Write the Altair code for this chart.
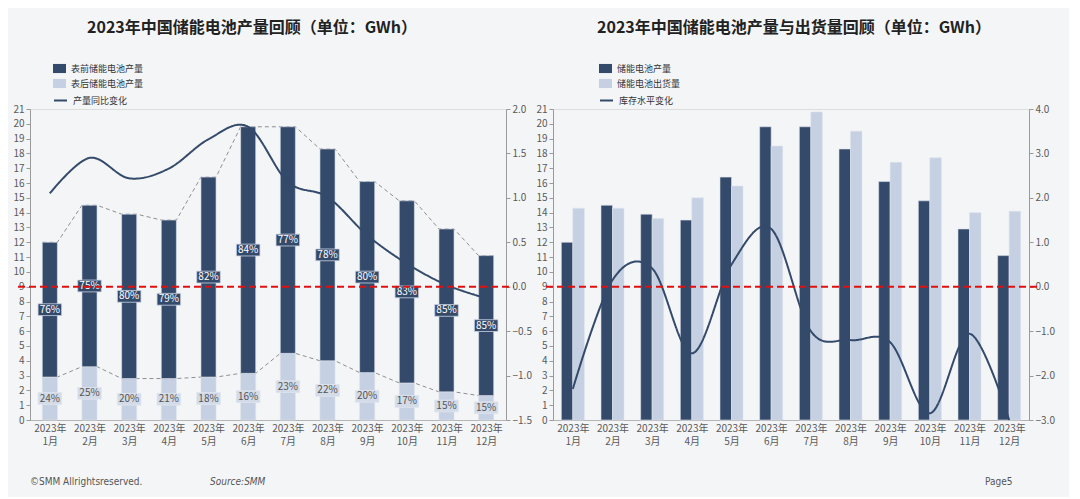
import json
import altair as alt
import pandas as pd

# ---------------- data ----------------
months = [1, 2, 3, 4, 5, 6, 7, 8, 9, 10, 11, 12]
year_label = "2023年"
month_names = ["1月", "2月", "3月", "4月", "5月", "6月", "7月", "8月", "9月", "10月", "11月", "12月"]

# left chart: production split front/behind meter (GWh)
production = [12.0, 14.5, 13.9, 13.5, 16.4, 19.8, 19.8, 18.3, 16.1, 14.8, 12.9, 11.1]
behind_meter = [2.9, 3.6, 2.8, 2.8, 2.9, 3.15, 4.5, 4.0, 3.2, 2.5, 1.9, 1.65]
front_share = ["76%", "75%", "80%", "79%", "82%", "84%", "77%", "78%", "80%", "83%", "85%", "85%"]
behind_share = ["24%", "25%", "20%", "21%", "18%", "16%", "23%", "22%", "20%", "17%", "15%", "15%"]
yoy_change = [1.05, 1.45, 1.22, 1.33, 1.66, 1.80, 1.18, 1.01, 0.58, 0.26, 0.02, -0.13]

# right chart: production vs shipments (GWh) and inventory change
shipments = [14.3, 14.3, 13.6, 15.0, 15.8, 18.5, 20.8, 19.5, 17.4, 17.7, 14.0, 14.1]
inventory_change = [-2.3, 0.15, 0.41, -1.5, 0.5, 1.3, -1.0, -1.2, -1.25, -2.85, -1.06, -3.0]

left_title = "2023年中国储能电池产量回顾（单位：GWh）"
right_title = "2023年中国储能电池产量与出货量回顾（单位：GWh）"
L_FRONT, L_BEHIND, L_LINE = "表前储能电池产量", "表后储能电池产量", "产量同比变化"
R_PROD, R_SHIP, R_LINE = "储能电池产量", "储能电池出货量", "库存水平变化"

# ---------------- style ----------------
DARK = "#344a6b"
LIGHT = "#c5d0e2"
BG = "#f4f5f7"
AXC = "#9a9a9a"
LBLC = "#595959"
FONT = "Noto Sans CJK SC"
NARROW = "Liberation Sans Narrow, DejaVu Sans Condensed, sans-serif"
W, H = 476, 311

tick_labels = [[year_label, n] for n in month_names]
x_scale = alt.Scale(domain=[0.5, 12.5], nice=False, zero=False)
x_axis = alt.Axis(values=months, labelExpr=json.dumps(tick_labels, ensure_ascii=False) + "[datum.value - 1]",
                  title=None, ticks=False, grid=False, domainColor="#b5b5b5", labelColor=LBLC,
                  labelFontSize=10, labelLineHeight=13, labelPadding=3, labelOverlap=False,
                  labelFlush=False, labelFont=FONT)


def left_y_axis():
    return alt.Axis(values=list(range(0, 22)), orient="left", title=None, grid=False,
                    domainColor=AXC, tickColor=AXC, tickSize=4, labelColor=LBLC,
                    labelFontSize=10, labelPadding=2, labelFont=FONT)


def right_y_axis(vals):
    return alt.Axis(values=vals, orient="right", title=None, grid=False, format=".1f",
                    domainColor=AXC, tickColor=AXC, tickSize=4, labelColor=LBLC,
                    labelFontSize=10, labelPadding=2, labelFont=FONT)


def color_legend(x):
    return alt.Legend(orient="none", legendX=x, legendY=-47, title=None,
                      symbolType="M-1,-0.7H1V0.7H-1Z", symbolSize=169, symbolStrokeWidth=0,
                      labelFontSize=9, labelColor="#333333", labelFont=FONT, rowPadding=3,
                      labelOffset=5, padding=0)


def line_legend(x):
    return alt.Legend(orient="none", legendX=x, legendY=-16, title=None,
                      symbolType="stroke", symbolSize=169, symbolStrokeWidth=2,
                      symbolStrokeColor=DARK, labelFontSize=9, labelColor="#333333",
                      labelFont=FONT, labelOffset=5, padding=0)


# ---------------- left chart ----------------
bar_rows, conn_rows, lab_rows, line_rows = [], [], [], []
for i, m in enumerate(months):
    b = behind_meter[i]
    t = production[i]
    bar_rows.append({"x0": m - 0.19, "x1": m + 0.19, "y0": 0, "y1": b, "series": L_BEHIND})
    bar_rows.append({"x0": m - 0.19, "x1": m + 0.19, "y0": b, "y1": t, "series": L_FRONT})
    for dx in (-0.19, 0.19):
        conn_rows.append({"x": m + dx, "y": t, "grp": "total"})
        conn_rows.append({"x": m + dx, "y": b, "grp": "behind"})
    lab_rows.append({"x": m, "y": (b + t) / 2, "text": front_share[i], "kind": "front"})
    lab_rows.append({"x": m, "y": b / 2, "text": behind_share[i], "kind": "behind"})
    line_rows.append({"x": m, "v": yoy_change[i], "name": L_LINE})

df_lbars = pd.DataFrame(bar_rows)
df_conn = pd.DataFrame(conn_rows)
df_lab = pd.DataFrame(lab_rows)
df_lline = pd.DataFrame(line_rows)
df_front = df_lab[df_lab.kind == "front"]
df_behind = df_lab[df_lab.kind == "behind"]

yL = alt.Scale(domain=[0, 21], nice=False, zero=False)
BOX = "M-1.1,-0.55H1.1V0.55H-1.1Z"

conn = alt.Chart(df_conn).mark_line(color="#8f8f8f", strokeDash=[4, 3], strokeWidth=1).encode(
    x=alt.X("x:Q", scale=x_scale, axis=x_axis),
    y=alt.Y("y:Q", scale=yL, axis=left_y_axis()),
    detail="grp:N", order="x:Q")

lbars = alt.Chart(df_lbars).mark_bar(stroke="#dde3ec", strokeWidth=0.6).encode(
    x=alt.X("x0:Q", scale=x_scale, axis=x_axis), x2="x1",
    y=alt.Y("y1:Q", scale=yL, axis=left_y_axis()), y2="y0",
    color=alt.Color("series:N", scale=alt.Scale(domain=[L_FRONT, L_BEHIND], range=[DARK, LIGHT]),
                    legend=color_legend(23)))

box_front = alt.Chart(df_front).mark_point(shape=BOX, filled=True, size=460, fill=DARK, opacity=1,
                                           stroke="#c9d3e3", strokeWidth=0.8).encode(
    x=alt.X("x:Q", scale=x_scale, axis=x_axis), y=alt.Y("y:Q", scale=yL, axis=left_y_axis()))
box_behind = alt.Chart(df_behind).mark_point(shape=BOX, filled=True, size=460, fill="#d3dbe8", opacity=1,
                                             stroke="#dfe5ee", strokeWidth=0.8).encode(
    x=alt.X("x:Q", scale=x_scale, axis=x_axis), y=alt.Y("y:Q", scale=yL, axis=left_y_axis()))

lab_front = alt.Chart(df_front).mark_text(
    color="white", fontSize=10, font=FONT, baseline="middle").encode(
    x=alt.X("x:Q", scale=x_scale, axis=x_axis), y=alt.Y("y:Q", scale=yL, axis=left_y_axis()), text="text:N")
lab_behind = alt.Chart(df_behind).mark_text(
    color="#555555", fontSize=10, font=FONT, baseline="middle").encode(
    x=alt.X("x:Q", scale=x_scale, axis=x_axis), y=alt.Y("y:Q", scale=yL, axis=left_y_axis()), text="text:N")

foot = pd.DataFrame({"t": ["©SMM Allrightsreserved."]})
foot1 = alt.Chart(foot).mark_text(align="left", baseline="middle", fontSize=10, color="#555555",
                                  font=NARROW).encode(
    x=alt.value(0), y=alt.value(373), text="t:N")
foot_src = pd.DataFrame({"t": ["Source:SMM"]})
foot2 = alt.Chart(foot_src).mark_text(align="left", baseline="middle", fontSize=10, color="#555555",
                                      fontStyle="italic", font=NARROW).encode(
    x=alt.value(180), y=alt.value(373), text="t:N")

yLr = alt.Scale(domain=[-1.5, 2.0], nice=False, zero=False)
lline = alt.Chart(df_lline).mark_line(interpolate="cardinal", color=DARK, strokeWidth=2).encode(
    x=alt.X("x:Q", scale=x_scale, axis=x_axis),
    y=alt.Y("v:Q", scale=yLr, axis=right_y_axis([-1.5, -1.0, -0.5, 0.0, 0.5, 1.0, 1.5, 2.0])),
    strokeDash=alt.StrokeDash("name:N", scale=alt.Scale(domain=[L_LINE], range=[[1, 0]]),
                              legend=line_legend(23)))

zero_df = pd.DataFrame({"z": [0.0]})
lrule = alt.Chart(zero_df).mark_rule(color="#e01010", strokeWidth=2, strokeDash=[7, 4]).encode(
    y=alt.Y("z:Q", scale=yLr), x=alt.value(-12), x2=alt.value(W + 8))

left = alt.layer(
    alt.layer(conn, lbars, box_front, box_behind, lab_front, lab_behind, foot1, foot2),
    alt.layer(lline, lrule),
).resolve_scale(y="independent").properties(
    width=W, height=H,
    title=alt.TitleParams(left_title, fontSize=16, fontWeight="bold", color="#222222", font=FONT,
                          anchor="middle", offset=26, dx=-16))

# ---------------- right chart ----------------
rbar_rows, rline_rows = [], []
for i, m in enumerate(months):
    rbar_rows.append({"x0": m - 0.29, "x1": m, "y0": 0, "y1": production[i], "series": R_PROD})
    rbar_rows.append({"x0": m, "x1": m + 0.29, "y0": 0, "y1": shipments[i], "series": R_SHIP})
    rline_rows.append({"x": m, "v": inventory_change[i], "name": R_LINE})
df_rbars = pd.DataFrame(rbar_rows)
df_rline = pd.DataFrame(rline_rows)

rbars = alt.Chart(df_rbars).mark_bar(stroke="#dde3ec", strokeWidth=0.6).encode(
    x=alt.X("x0:Q", scale=x_scale, axis=x_axis), x2="x1",
    y=alt.Y("y1:Q", scale=yL, axis=left_y_axis()), y2="y0",
    color=alt.Color("series:N", scale=alt.Scale(domain=[R_PROD, R_SHIP], range=[DARK, LIGHT]),
                    legend=color_legend(46)))

foot_pg = pd.DataFrame({"t": ["Page5"]})
foot3 = alt.Chart(foot_pg).mark_text(align="left", baseline="middle", fontSize=10, color="#555555",
                                     font=NARROW).encode(
    x=alt.value(432), y=alt.value(373), text="t:N")

yRr = alt.Scale(domain=[-3.0, 4.0], nice=False, zero=False)
rline = alt.Chart(df_rline).mark_line(interpolate="cardinal", color=DARK, strokeWidth=2).encode(
    x=alt.X("x:Q", scale=x_scale, axis=x_axis),
    y=alt.Y("v:Q", scale=yRr, axis=right_y_axis([v / 2 for v in range(-6, 9)])),
    strokeDash=alt.StrokeDash("name:N", scale=alt.Scale(domain=[R_LINE], range=[[1, 0]]),
                              legend=line_legend(46)))
rrule = alt.Chart(zero_df).mark_rule(color="#e01010", strokeWidth=2, strokeDash=[7, 4]).encode(
    y=alt.Y("z:Q", scale=yRr), x=alt.value(-7), x2=alt.value(W + 12))

right = alt.layer(
    alt.layer(rbars, foot3),
    alt.layer(rline, rrule),
).resolve_scale(y="independent").properties(
    width=W, height=H,
    title=alt.TitleParams(right_title, fontSize=16, fontWeight="bold", color="#222222", font=FONT,
                          anchor="middle", offset=26, dx=3))

chart = alt.hconcat(left, right, spacing=3).resolve_scale(
    color="independent", strokeDash="independent", x="independent", y="independent"
).properties(
    background=BG, padding={"left": 4, "top": 11, "right": 14, "bottom": 9}
).configure_view(stroke=None).configure(font=FONT)

chart.save("out.html", embed_options={"renderer": "svg", "actions": False})
